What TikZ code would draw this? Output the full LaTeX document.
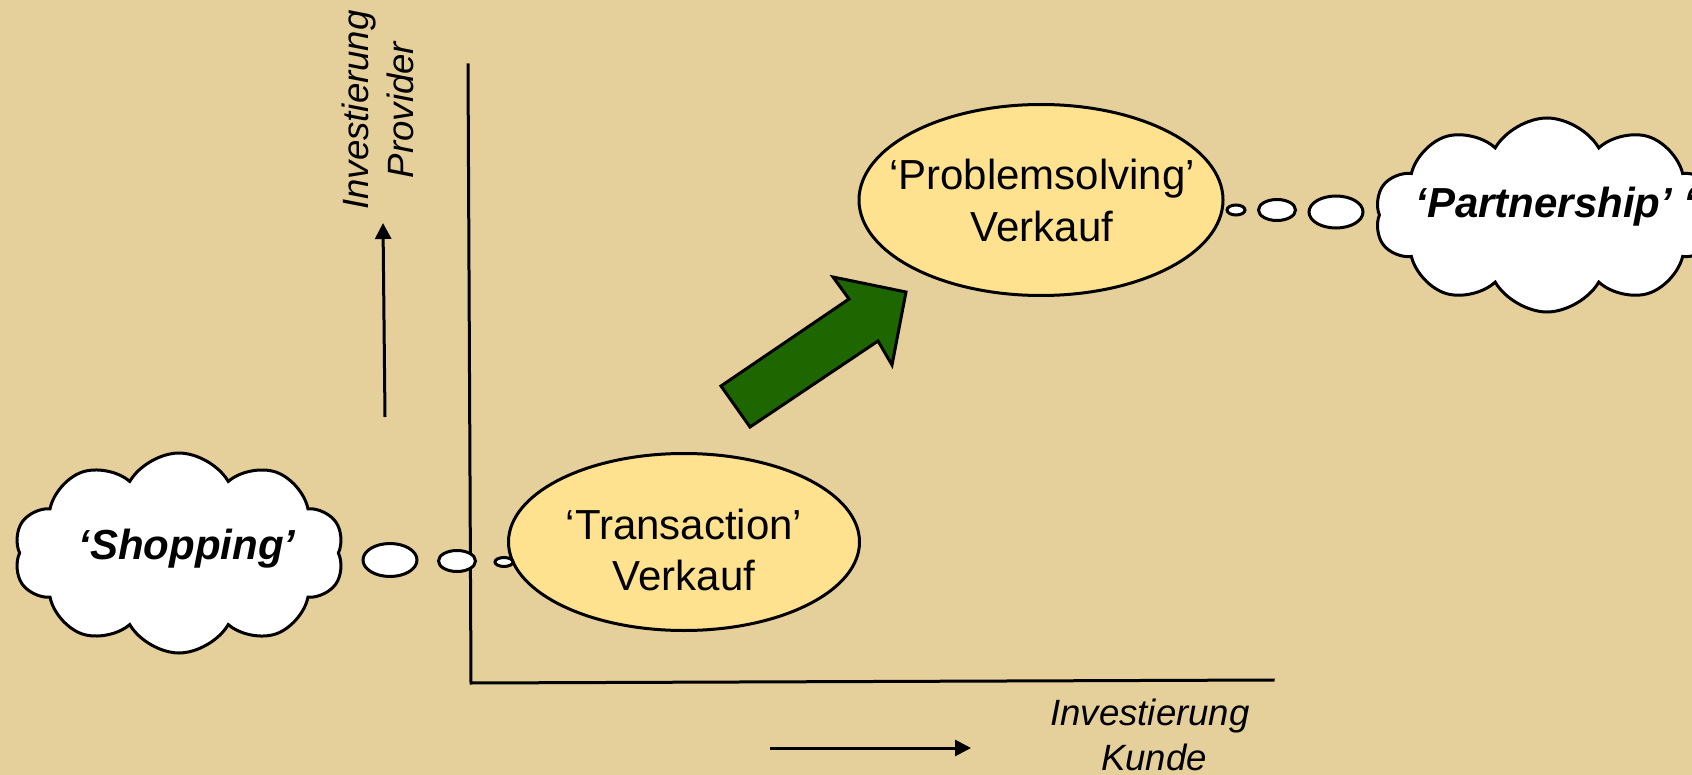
\documentclass[tikz,border=0pt]{standalone}
\usepackage{fontspec}
\setmainfont{Liberation Sans}
\usetikzlibrary{shapes.symbols,shapes.geometric,arrows.meta}
\definecolor{bgcol}{RGB}{229,208,155}
\definecolor{ellfill}{RGB}{255,226,143}
\definecolor{arrowgreen}{RGB}{30,102,0}
\begin{document}
\begin{tikzpicture}[x=0.5pt,y=-0.5pt,
  outl/.style={draw=black,line width=1.5pt},
  ellnode/.style={outl,ellipse,fill=ellfill,inner sep=0pt},
  bubble/.style={outl,ellipse,fill=white,inner sep=0pt},
  cloudnode/.style={outl,cloud,fill=white,cloud puffs=10,cloud puff arc=120,aspect=1.6,inner sep=0pt},
  elltext/.style={anchor=base,inner sep=0pt,font=\fontsize{21}{25}\selectfont},
  cloudtext/.style={anchor=base,inner sep=0pt,font=\fontsize{21}{25}\selectfont\bfseries\itshape},
  axtext/.style={anchor=base,inner sep=0pt,font=\fontsize{18.3}{22}\selectfont\itshape},
  axline/.style={line width=1.5pt,line cap=rect},
  smallarrow/.style={line width=1.5pt,-{Triangle[length=8pt,width=8pt]}}
]
\useasboundingbox[fill=bgcol] (0,0) rectangle (1692,775);

% axes
\coordinate (axtop) at (468,65);
\coordinate (axorigin) at (471,683);
\coordinate (axright) at (1273,680);
\draw[axline] (axtop) -- (axorigin) -- (axright);

% direction arrows
\coordinate (uparrowA) at (385,417);
\coordinate (uparrowB) at (383,223);
\draw[smallarrow] (uparrowA) -- (uparrowB);
\coordinate (rarrowA) at (770,748);
\coordinate (rarrowB) at (971,748);
\draw[smallarrow] (rarrowA) -- (rarrowB);

% axis labels
\node[axtext,rotate=90] (ylab1) at (368,110) {Investierung};
\node[axtext,rotate=90] (ylab2) at (413,110) {Provider};
\node[axtext] (xlab1) at (1150,725) {Investierung};
\node[axtext] (xlab2) at (1154,770) {Kunde};

% ellipses
\node[ellnode,minimum width=175.5pt,minimum height=88.5pt] (trans) at (684,542) {};
\node[elltext] (transt1) at (684,539) {‘Transaction’};
\node[elltext] (transt2) at (684,590) {Verkauf};
\node[ellnode,minimum width=182pt,minimum height=95.5pt] (prob) at (1041,200) {};
\node[elltext] (probt1) at (1042,190) {‘Problemsolving’};
\node[elltext] (probt2) at (1042,242) {Verkauf};

% green arrow
\filldraw[arrowgreen,draw=black,line width=1.5pt,line join=miter]
  (721,386) -- (750,427) -- (878,341) -- (892,365) -- (906,292) -- (833,277) -- (849,299) -- cycle;

% shopping cloud and bubbles
\node[cloudnode,aspect=1.45,minimum width=165pt,minimum height=100pt] (shopcloud) at (179,553) {};
\node[cloudtext] (shoptext) at (187,559) {‘Shopping’};
\node[bubble,minimum width=27pt,minimum height=16.5pt] (lb1) at (390,560) {};
\node[bubble,minimum width=18.5pt,minimum height=10.5pt] (lb2) at (457,561) {};
\node[bubble,minimum width=9pt,minimum height=4.5pt] (lb3) at (504,562) {};

% partnership cloud and bubbles
\node[bubble,minimum width=9pt,minimum height=5pt] (rb1) at (1236,210) {};
\node[bubble,minimum width=18.5pt,minimum height=10.5pt] (rb2) at (1277,210) {};
\node[bubble,minimum width=27pt,minimum height=16pt] (rb3) at (1336,212) {};
\node[cloudnode,minimum width=172pt,minimum height=97pt] (partcloud) at (1547,215) {};
\node[cloudtext,anchor=base west] (parttext) at (1415,218) {‘Partnership’ ‘};
\end{tikzpicture}
\end{document}
